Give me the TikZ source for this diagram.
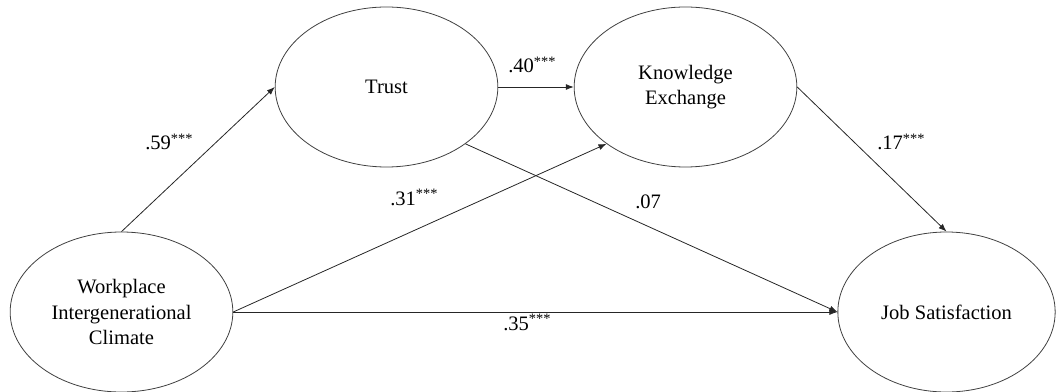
\documentclass[tikz,border=0pt]{standalone}
\usepackage{fontspec}
\setmainfont{Liberation Serif}
\usetikzlibrary{shapes.geometric,arrows.meta}
\tikzset{
  latent/.style={ellipse, draw=black!75, line width=0.6pt, minimum width=167pt, minimum height=120pt, inner sep=0pt, align=center, font=\fontsize{15.4}{18.8}\selectfont},
  path/.style={draw=black!85, line width=0.6pt, -{Latex[length=6pt,width=4.5pt]}},
  coef/.style={anchor=base west, inner sep=0pt, font=\fontsize{15.4}{18.8}\selectfont}
}
\begin{document}
\begin{tikzpicture}[x=0.75pt,y=-0.75pt]
\useasboundingbox (0,0) rectangle (1056,392);
\node[latent] (W) at (121.5,312) {Workplace\\Intergenerational\\Climate};
\node[latent] (T) at (386.5,87) {Trust};
\node[latent] (K) at (685.5,87) {Knowledge\\Exchange};
\node[latent, minimum width=163pt] (J) at (946.5,312) {Job Satisfaction};
\draw[path] (W.north) -- (T.west);
\draw[path] (T.east) -- (K.west);
\draw[path] (W.east) -- (K.south west);
\draw[path] (W.east) -- (J.west);
\draw[path] (T.south east) -- (J.west);
\draw[path] (K.east) -- (J.north);
\node[coef] (c59) at (145,150) {.59\textsuperscript{***}};
\node[coef] (c40) at (508,73) {.40\textsuperscript{***}};
\node[coef] (c31) at (390,205) {.31\textsuperscript{***}};
\node[coef] (c07) at (635,208) {.07};
\node[coef] (c17) at (877,150) {.17\textsuperscript{***}};
\node[coef] (c35) at (503,330) {.35\textsuperscript{***}};
\end{tikzpicture}
\end{document}
